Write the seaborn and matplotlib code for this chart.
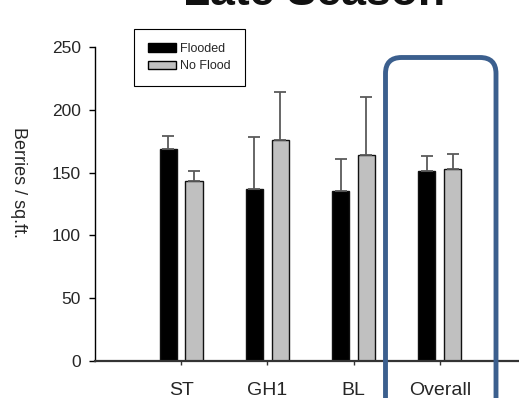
import matplotlib
matplotlib.use("Agg")
import matplotlib.pyplot as plt
import matplotlib.patches as mpatches
import numpy as np
import pandas as pd
import seaborn as sns

sites = ["ST", "GH1", "BL", "Overall"]
treatments = ["Flooded", "No Flood"]
flooded = [169, 137, 135, 151]
flooded_err = [10, 41, 26, 12]
no_flood = [143, 176, 164, 152.5]
no_flood_err = [8, 38, 46, 12.5]

sns.set_theme(style="white")
plt.rcParams["font.family"] = ["Liberation Sans", "DejaVu Sans"]

df = pd.DataFrame({
    "site": sites * 2,
    "treatment": [treatments[0]] * 4 + [treatments[1]] * 4,
    "berries": flooded + no_flood,
})
errs = [flooded_err, no_flood_err]

fig = plt.figure(figsize=(5.19, 3.98), dpi=100)
ax = fig.add_axes([0.183, 0.093, 0.817, 0.789])

sns.barplot(data=df, x="site", y="berries", hue="treatment", order=sites,
            hue_order=treatments, palette=["#000000", "#C0C0C0"],
            width=0.6, gap=1/3, errorbar=None, edgecolor="#111111",
            linewidth=1, legend=False, ax=ax)

# only the upper half of the error bars
for cont, err in zip(ax.containers, errs):
    xs = [p.get_x() + p.get_width() / 2 for p in cont.patches]
    hs = [p.get_height() for p in cont.patches]
    ax.errorbar(xs, hs, yerr=[np.zeros(len(err)), err], fmt="none",
                ecolor="#5a5a5a", elinewidth=1.3, capsize=4, capthick=1.3,
                zorder=1)

ax.set_xlim(-1, 3.92)
ax.set_ylim(0, 250)
ax.set_yticks([0, 50, 100, 150, 200, 250])
ax.tick_params(axis="y", labelsize=12.5, length=4, width=1, color="black",
               direction="out", pad=6, left=True)
ax.tick_params(axis="x", labelsize=14, length=3, width=1, color="#333333",
               direction="out", pad=12, bottom=True)
ax.set_xlabel("")
ax.set_ylabel("Berries / sq.ft.", fontsize=13, rotation=270)
ax.yaxis.label.set_va("center")
ax.yaxis.set_label_coords(-0.181, 0.567)

for s in ["top", "right"]:
    ax.spines[s].set_visible(False)
ax.spines["left"].set_color("black")
ax.spines["left"].set_linewidth(1)
ax.spines["bottom"].set_color("#333333")
ax.spines["bottom"].set_linewidth(1.6)

handles = [mpatches.Patch(facecolor="#000000", edgecolor="black", label="Flooded"),
           mpatches.Patch(facecolor="#C0C0C0", edgecolor="black", label="No Flood")]
leg = fig.legend(handles=handles, loc="upper left",
                 bbox_to_anchor=(134 / 519, 1 - 29 / 398), fontsize=9,
                 frameon=True, fancybox=False, edgecolor="black",
                 framealpha=1, borderpad=1.1, labelspacing=0.45,
                 handlelength=2.25, handleheight=0.65, handletextpad=0.35,
                 borderaxespad=0)
leg.get_frame().set_linewidth(0.8)

fig.text(0.605, 1 - 5 / 398, "Late Season", ha="center", va="baseline",
         fontsize=32, fontweight="bold", color="#111111")

box = mpatches.FancyBboxPatch((3.855, -0.6), 1.105, 4.005,
                              boxstyle="round,pad=0,rounding_size=0.16",
                              transform=fig.dpi_scale_trans, fill=False,
                              edgecolor="#3b5f8e", linewidth=3.5,
                              clip_on=False, zorder=10)
fig.add_artist(box)

fig.savefig("out.png", dpi=100)
plt.close()
